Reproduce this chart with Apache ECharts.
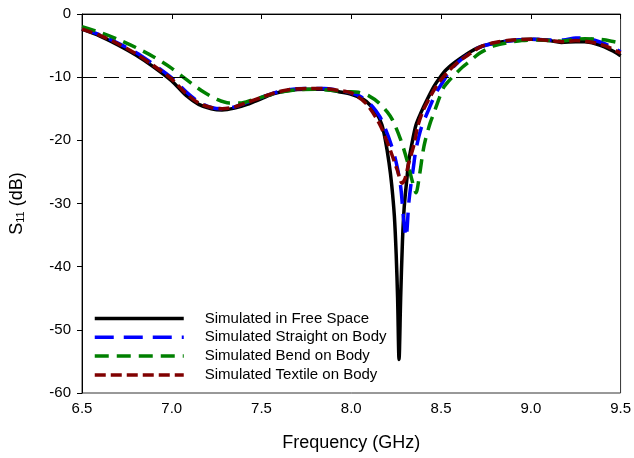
<!DOCTYPE html>
<html>
<head>
<meta charset="utf-8">
<script src="https://cdn.jsdelivr.net/npm/echarts@6/dist/echarts.min.js"></script>
<style>html,body{margin:0;padding:0;background:#fff}#c{width:634px;height:458px}</style>
</head>
<body>
<div id="c"></div>
<script>
var xTicks = [6.5, 7.0, 7.5, 8.0, 8.5, 9.0, 9.5];
var yTicks = [0, -10, -20, -30, -40, -50, -60];
var seriesNames = ['Simulated in Free Space', 'Simulated Straight on Body', 'Simulated Bend on Body', 'Simulated Textile on Body'];

var freeF = [6.50,6.60,6.70,6.80,6.90,7.00,7.08,7.15,7.22,7.28,7.35,7.42,7.50,7.57,7.65,7.75,7.85,7.93,8.00,8.06,8.10,8.14,8.17,8.19,8.21,8.225,8.24,8.25,8.258,8.266,8.275,8.285,8.295,8.31,8.32,8.34,8.36,8.39,8.42,8.46,8.49,8.53,8.58,8.64,8.71,8.80,8.90,9.00,9.10,9.17,9.25,9.30,9.36,9.41,9.46,9.50];
var freeS = [-2.4,-3.5,-4.9,-6.5,-8.4,-10.6,-12.9,-14.3,-15.0,-15.2,-14.9,-14.3,-13.4,-12.6,-12.1,-11.9,-11.9,-12.3,-12.7,-13.4,-14.3,-15.7,-17.5,-20.0,-23.5,-27,-32,-38,-45,-54.7,-45,-36,-30.5,-26,-23.3,-20.2,-17.6,-15.5,-13.7,-11.5,-10.2,-8.8,-7.6,-6.4,-5.3,-4.6,-4.2,-4.0,-4.2,-4.5,-4.4,-4.4,-4.7,-5.2,-5.9,-6.6];

var straightF = [6.50,6.60,6.70,6.80,6.90,7.00,7.08,7.15,7.22,7.28,7.35,7.42,7.50,7.57,7.65,7.75,7.85,7.93,8.00,8.06,8.12,8.16,8.19,8.22,8.25,8.275,8.29,8.305,8.32,8.33,8.345,8.36,8.39,8.43,8.47,8.505,8.55,8.60,8.66,8.72,8.80,8.90,9.00,9.10,9.18,9.25,9.30,9.36,9.42,9.50];
var straightS = [-2.3,-3.3,-4.6,-6.1,-8.0,-10.1,-12.3,-13.9,-14.8,-15.0,-14.7,-14.0,-13.2,-12.5,-12.0,-11.8,-11.8,-12.1,-12.5,-13.2,-14.7,-16.3,-18.2,-20.5,-23.5,-27.3,-32,-35.3,-30,-27.5,-24.5,-21.5,-18,-15.2,-12.6,-11.0,-9.0,-7.5,-6.2,-5.2,-4.6,-4.2,-4.0,-4.1,-4.1,-3.8,-3.8,-4.2,-4.8,-6.0];

var bendF = [6.50,6.60,6.70,6.80,6.90,7.00,7.06,7.12,7.18,7.25,7.32,7.38,7.45,7.52,7.60,7.70,7.80,7.90,7.97,8.04,8.10,8.155,8.20,8.23,8.275,8.31,8.34,8.36,8.38,8.40,8.413,8.44,8.46,8.49,8.515,8.54,8.58,8.62,8.66,8.71,8.76,8.80,8.88,8.95,9.05,9.17,9.25,9.30,9.38,9.45,9.50];
var bendS = [-2.0,-2.9,-4.0,-5.3,-6.8,-8.6,-9.9,-11.2,-12.4,-13.5,-14.1,-14.1,-13.6,-13.0,-12.4,-12.0,-11.9,-12.1,-12.3,-12.4,-13.0,-14.1,-15.5,-16.8,-19.9,-23.1,-26.5,-28.3,-25.5,-21.7,-19.9,-17.2,-15.7,-13.3,-11.6,-10.7,-9.5,-8.4,-7.5,-6.3,-5.5,-5.0,-4.5,-4.2,-4.1,-4.3,-4.0,-3.9,-4.0,-4.3,-4.6];

var textileF = [6.50,6.60,6.70,6.80,6.90,7.00,7.08,7.15,7.22,7.28,7.35,7.42,7.50,7.57,7.65,7.75,7.85,7.93,8.00,8.08,8.155,8.21,8.256,8.283,8.30,8.32,8.35,8.37,8.40,8.43,8.47,8.50,8.55,8.60,8.66,8.72,8.80,8.90,9.00,9.10,9.18,9.25,9.30,9.36,9.42,9.50];
var textileS = [-2.4,-3.4,-4.7,-6.3,-8.2,-10.3,-12.6,-14.1,-14.8,-15.0,-14.7,-14.0,-13.2,-12.5,-12.0,-11.8,-11.8,-12.1,-12.5,-14.1,-17.3,-21.0,-24.7,-26.8,-26,-23.6,-20.6,-17.8,-15.3,-13.6,-11.6,-10.4,-8.8,-7.5,-6.3,-5.2,-4.5,-4.1,-4.0,-4.2,-4.4,-4.2,-4.3,-4.6,-5.1,-6.2];

var refLevel = -10;

function pairs(f, s) { return f.map(function (v, i) { return [v, s[i]]; }); }

var font = '"Liberation Sans", Arial, sans-serif';
var chart = echarts.init(document.getElementById('c'), null, {renderer: 'canvas'});
chart.setOption({
  animation: false,
  backgroundColor: '#fff',
  grid: {left: 81, right: 11, top: 14, bottom: 65, show: true, borderColor: '#333', borderWidth: 1, backgroundColor: 'transparent'},
  legend: {
    left: 88, top: 306, orient: 'vertical', itemWidth: 89, itemHeight: 14, itemGap: 3.8,
    itemStyle: {opacity: 0},
    lineStyle: {width: 3.5},
    textStyle: {fontFamily: font, fontSize: 15, color: '#000', padding: [0, 0, 0, 16]},
    data: seriesNames
  },
  xAxis: {
    type: 'value', min: 6.5, max: 9.5, interval: 0.5,
    name: 'Frequency (GHz)', nameLocation: 'middle', nameGap: 41,
    nameTextStyle: {fontFamily: font, fontSize: 18, color: '#000'},
    axisLine: {show: true, lineStyle: {color: '#000', width: 1}},
    axisTick: {show: true, inside: false, length: 5, lineStyle: {color: '#000'}},
    axisLabel: {fontFamily: font, fontSize: 15, color: '#000', margin: 8,
      formatter: function (v) { return v.toFixed(1); }},
    splitLine: {show: false}
  },
  yAxis: {
    type: 'value', min: -60, max: 0, interval: 10,
    name: 'S{sub|11} (dB)', nameLocation: 'middle', nameGap: 56, nameRotate: 90,
    nameTextStyle: {fontFamily: font, fontSize: 18, color: '#000',
      rich: {sub: {fontFamily: font, fontSize: 11, color: '#000', verticalAlign: 'bottom', padding: [7, 0, 0, 0]}}},
    axisLine: {show: true, lineStyle: {color: '#000', width: 1}},
    axisTick: {show: true, inside: false, length: 5, lineStyle: {color: '#000'}},
    axisLabel: {fontFamily: font, fontSize: 15, color: '#000', margin: 11},
    splitLine: {show: false}
  },
  series: [
    {name: seriesNames[0], type: 'line', data: pairs(freeF, freeS), showSymbol: false, symbol: 'none', smooth: 0.3, z: 2,
      lineStyle: {color: '#000', width: 3.5, type: 'solid'}, itemStyle: {color: '#000'},
      markLine: {silent: true, symbol: 'none', label: {show: false},
        lineStyle: {color: '#000', width: 1, type: [15, 7]}, data: [{yAxis: refLevel}]}},
    {name: seriesNames[1], type: 'line', data: pairs(straightF, straightS), showSymbol: false, symbol: 'none', smooth: 0.3, z: 3,
      lineStyle: {color: '#0000ff', width: 3.5, type: [19, 10]}, itemStyle: {color: '#0000ff'}},
    {name: seriesNames[2], type: 'line', data: pairs(bendF, bendS), showSymbol: false, symbol: 'none', smooth: 0.3, z: 4,
      lineStyle: {color: '#008000', width: 3.5, type: [14, 8]}, itemStyle: {color: '#008000'}},
    {name: seriesNames[3], type: 'line', data: pairs(textileF, textileS), showSymbol: false, symbol: 'none', smooth: 0.3, z: 5,
      lineStyle: {color: '#800000', width: 3.5, type: [11, 5]}, itemStyle: {color: '#800000'}}
  ]
});
</script>
</body>
</html>
